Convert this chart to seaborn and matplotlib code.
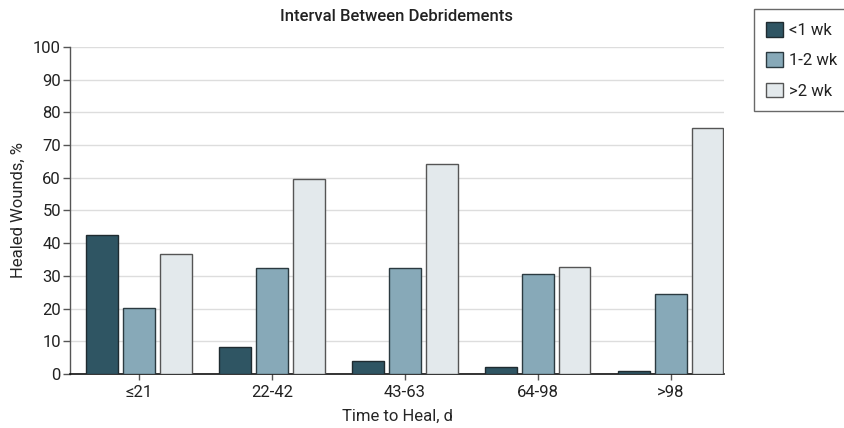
import pandas as pd
import seaborn as sns
import matplotlib.pyplot as plt
from matplotlib.patches import Patch

# Chart data
categories = ["≤21", "22-42", "43-63", "64-98", ">98"]
intervals = ["<1 wk", "1-2 wk", ">2 wk"]
lt1wk = [42.5, 8.2, 3.9, 2.1, 0.8]
wk1to2 = [20.3, 32.5, 32.5, 30.7, 24.5]
gt2wk = [36.8, 59.5, 64.2, 32.7, 75.2]

colors = ["#2f5563", "#87a9b8", "#e3e9ec"]
edges = ["#1f2b30", "#2b3a40", "#555555"]

df = pd.DataFrame({
    "heal": categories * 3,
    "interval": [intervals[0]] * 5 + [intervals[1]] * 5 + [intervals[2]] * 5,
    "pct": lt1wk + wk1to2 + gt2wk,
})

sns.set_style("white")
plt.rcParams["font.family"] = ["Roboto", "DejaVu Sans"]
plt.rcParams["text.color"] = "#222222"
FS = 12

fig = plt.figure(figsize=(8.45, 4.28), dpi=100)
ax = fig.add_axes([0.0828, 0.1262, 0.7740, 0.7640])

sns.barplot(data=df, x="heal", y="pct", hue="interval", order=categories,
            hue_order=intervals, palette=colors, saturation=1, width=0.83,
            gap=0.14, linewidth=1.0, edgecolor="#222222", legend=False,
            ax=ax, zorder=3)

for cont, ec in zip(ax.containers, edges):
    for bar in cont:
        bar.set_edgecolor(ec)

ax.set_ylim(0, 100)
ax.set_xlim(-0.52, 4.4)
ax.set_yticks(range(0, 101, 10))
ax.yaxis.grid(True, color="#dddddd", linewidth=1.0, zorder=0)
ax.set_axisbelow(True)

for side in ["top", "right"]:
    ax.spines[side].set_visible(False)
ax.spines["left"].set_color("#555555")
ax.spines["bottom"].set_color("#111111")
ax.spines["left"].set_linewidth(1.0)
ax.spines["bottom"].set_linewidth(1.2)

ax.tick_params(axis="y", length=5, width=1, color="#555555", labelsize=FS,
               labelcolor="#222222", pad=1.5, left=True)
ax.tick_params(axis="x", length=4, width=1, color="#555555", labelsize=FS,
               labelcolor="#222222", pad=4, bottom=True)

ax.set_xlabel("Time to Heal, d", fontsize=FS, labelpad=6)
ax.set_ylabel("Healed Wounds, %", fontsize=FS, labelpad=5)
ax.set_title("Interval Between Debridements", fontsize=FS,
             fontweight="medium", pad=19)

handles = [Patch(facecolor=c, edgecolor=e, linewidth=1.0, label=l)
           for c, e, l in zip(colors, edges, intervals)]
leg = fig.legend(handles=handles, loc="upper left",
                 bbox_to_anchor=(0.892, 0.978), frameon=True, fancybox=False,
                 fontsize=FS, handlelength=1.0, handleheight=1.0,
                 handletextpad=0.35, labelspacing=0.85, borderpad=0.75,
                 borderaxespad=0)
leg.get_frame().set_edgecolor("#444444")
leg.get_frame().set_linewidth(1.0)

fig.savefig("out.png", dpi=100)
